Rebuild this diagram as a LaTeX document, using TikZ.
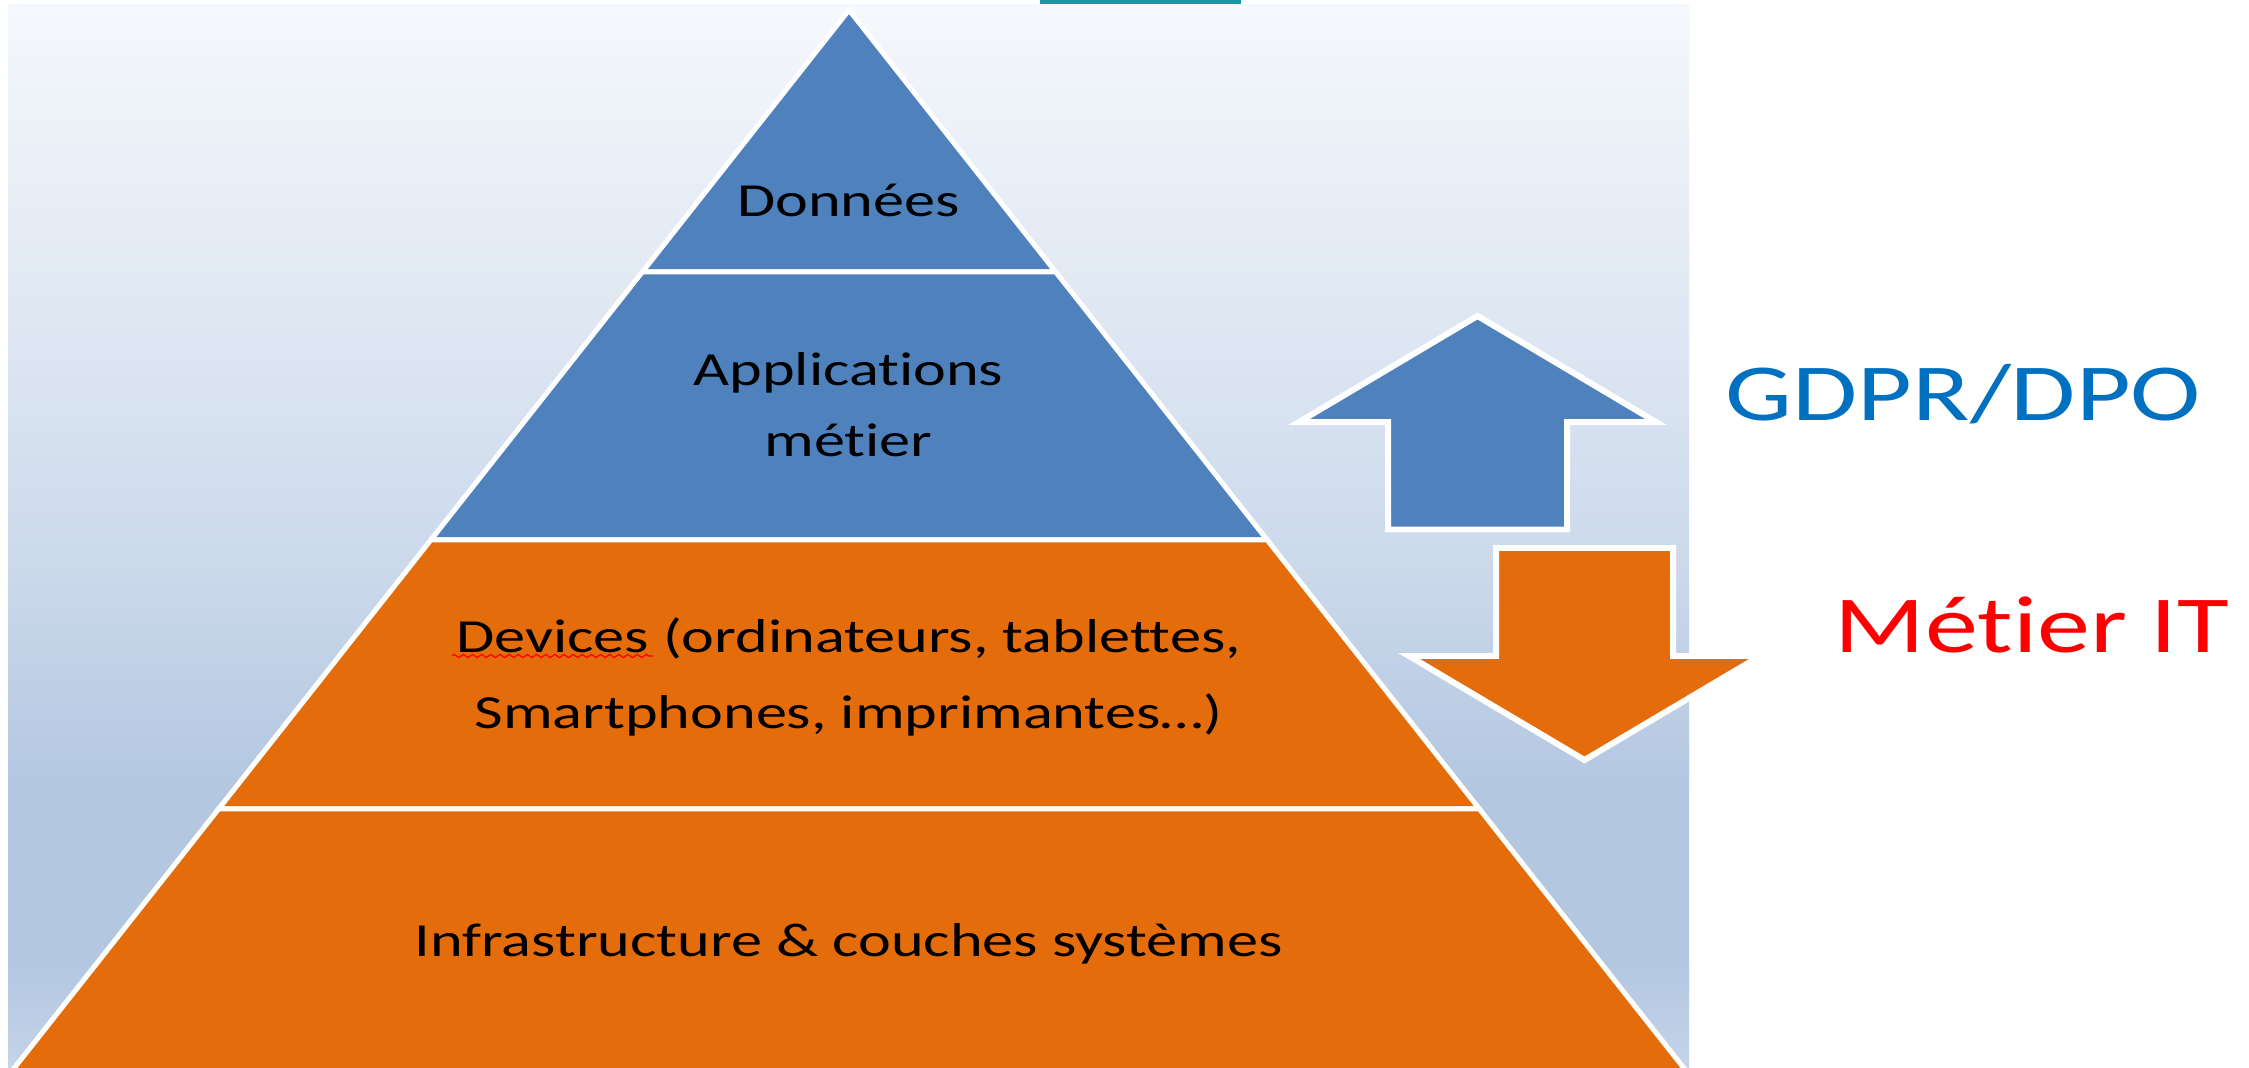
\documentclass[tikz,border=0pt]{standalone}
\usepackage{fontspec}
\setmainfont[FakeStretch=1.31, Ligatures=NoCommon]{Carlito}
\usetikzlibrary{decorations.pathmorphing}
\definecolor{pblue}{HTML}{4F81BD}
\definecolor{porange}{HTML}{E46C0A}
\definecolor{gdprblue}{HTML}{0070C0}
\definecolor{tealbar}{HTML}{1799A6}
\definecolor{bgA}{HTML}{F5F8FC}
\definecolor{bgB}{HTML}{E0E8F3}
\definecolor{bgC}{HTML}{CEDBEC}
\definecolor{bgD}{HTML}{B3C7E1}
\definecolor{bgE}{HTML}{C4D4E9}
\pgfdeclareverticalshading{bgshade}{100bp}{color(0bp)=(bgE); color(25bp)=(bgE); color(30bp)=(bgD); color(38bp)=(bgD); color(50bp)=(bgC); color(61bp)=(bgB); color(75bp)=(bgA); color(100bp)=(bgA)}
\tikzset{
  layer/.style={draw=white, line width=1.42pt, line join=miter},
  bigarrow/.style={draw=white, line width=1.7pt, line join=miter},
  lbl/.style={inner sep=0pt, text=black},
}
\begin{document}
\begin{tikzpicture}[x=0.01cm, y=-0.01cm]
\clip (0,0) rectangle (2249,1068);
\fill[white] (0,0) rectangle (2249,1068);
% background panel
\shade[shading=bgshade] (8,5) rectangle (1689,1068);
% teal bar at top
\fill[tealbar] (1040,0) rectangle (1241,4.5);
% pyramid layers
\path[layer, fill=pblue] (849,10) -- (1055.7,272) -- (642.3,272) -- cycle;
\path[layer, fill=pblue] (642.3,272) -- (1055.7,272) -- (1267.2,540) -- (430.8,540) -- cycle;
\path[layer, fill=porange] (430.8,540) -- (1267.2,540) -- (1479.4,809) -- (218.6,809) -- cycle;
\path[layer, fill=porange] (218.6,809) -- (1479.4,809) -- (1694.8,1082) -- (3.2,1082) -- cycle;
% arrows
\path[bigarrow, fill=pblue] (1477.5,316) -- (1656,422) -- (1567,422) -- (1567,529.5) -- (1388,529.5) -- (1388,422) -- (1299,422) -- cycle;
\path[bigarrow, fill=porange] (1496,548) -- (1673,548) -- (1673,656) -- (1760,656) -- (1584.5,760) -- (1409,656) -- (1496,656) -- cycle;
% labels
\node[lbl, anchor=base, font=\fontsize{13.5pt}{19.9pt}\selectfont] (donnees) at (848.5,217) {Données};
\node[lbl, align=center, font=\fontsize{13.5pt}{20.3pt}\selectfont] (apps) at (848.5,405) {Applications\\métier};
\node[lbl, align=center, font=\fontsize{13.5pt}{21.8pt}\selectfont] (devices) at (848.5,677) {Devices (ordinateurs, tablettes,\\Smartphones, imprimantes…)};
\node[lbl, anchor=base, font=\fontsize{13.5pt}{19.9pt}\selectfont] (infra) at (848.5,957) {Infrastructure \& couches systèmes};
\draw[red, line width=0.35pt, decorate, decoration={zigzag, amplitude=0.45pt, segment length=2.6pt}] (452,656) -- (653,656);
\node[lbl, anchor=base west, text=gdprblue, font=\fontsize{23pt}{27pt}\selectfont] (gdpr) at (1725,421) {GDPR/DPO};
\node[lbl, anchor=base west, text=red, font=\fontsize{23pt}{27pt}\selectfont] (metierit) at (1834,653) {Métier IT};
\end{tikzpicture}
\end{document}
